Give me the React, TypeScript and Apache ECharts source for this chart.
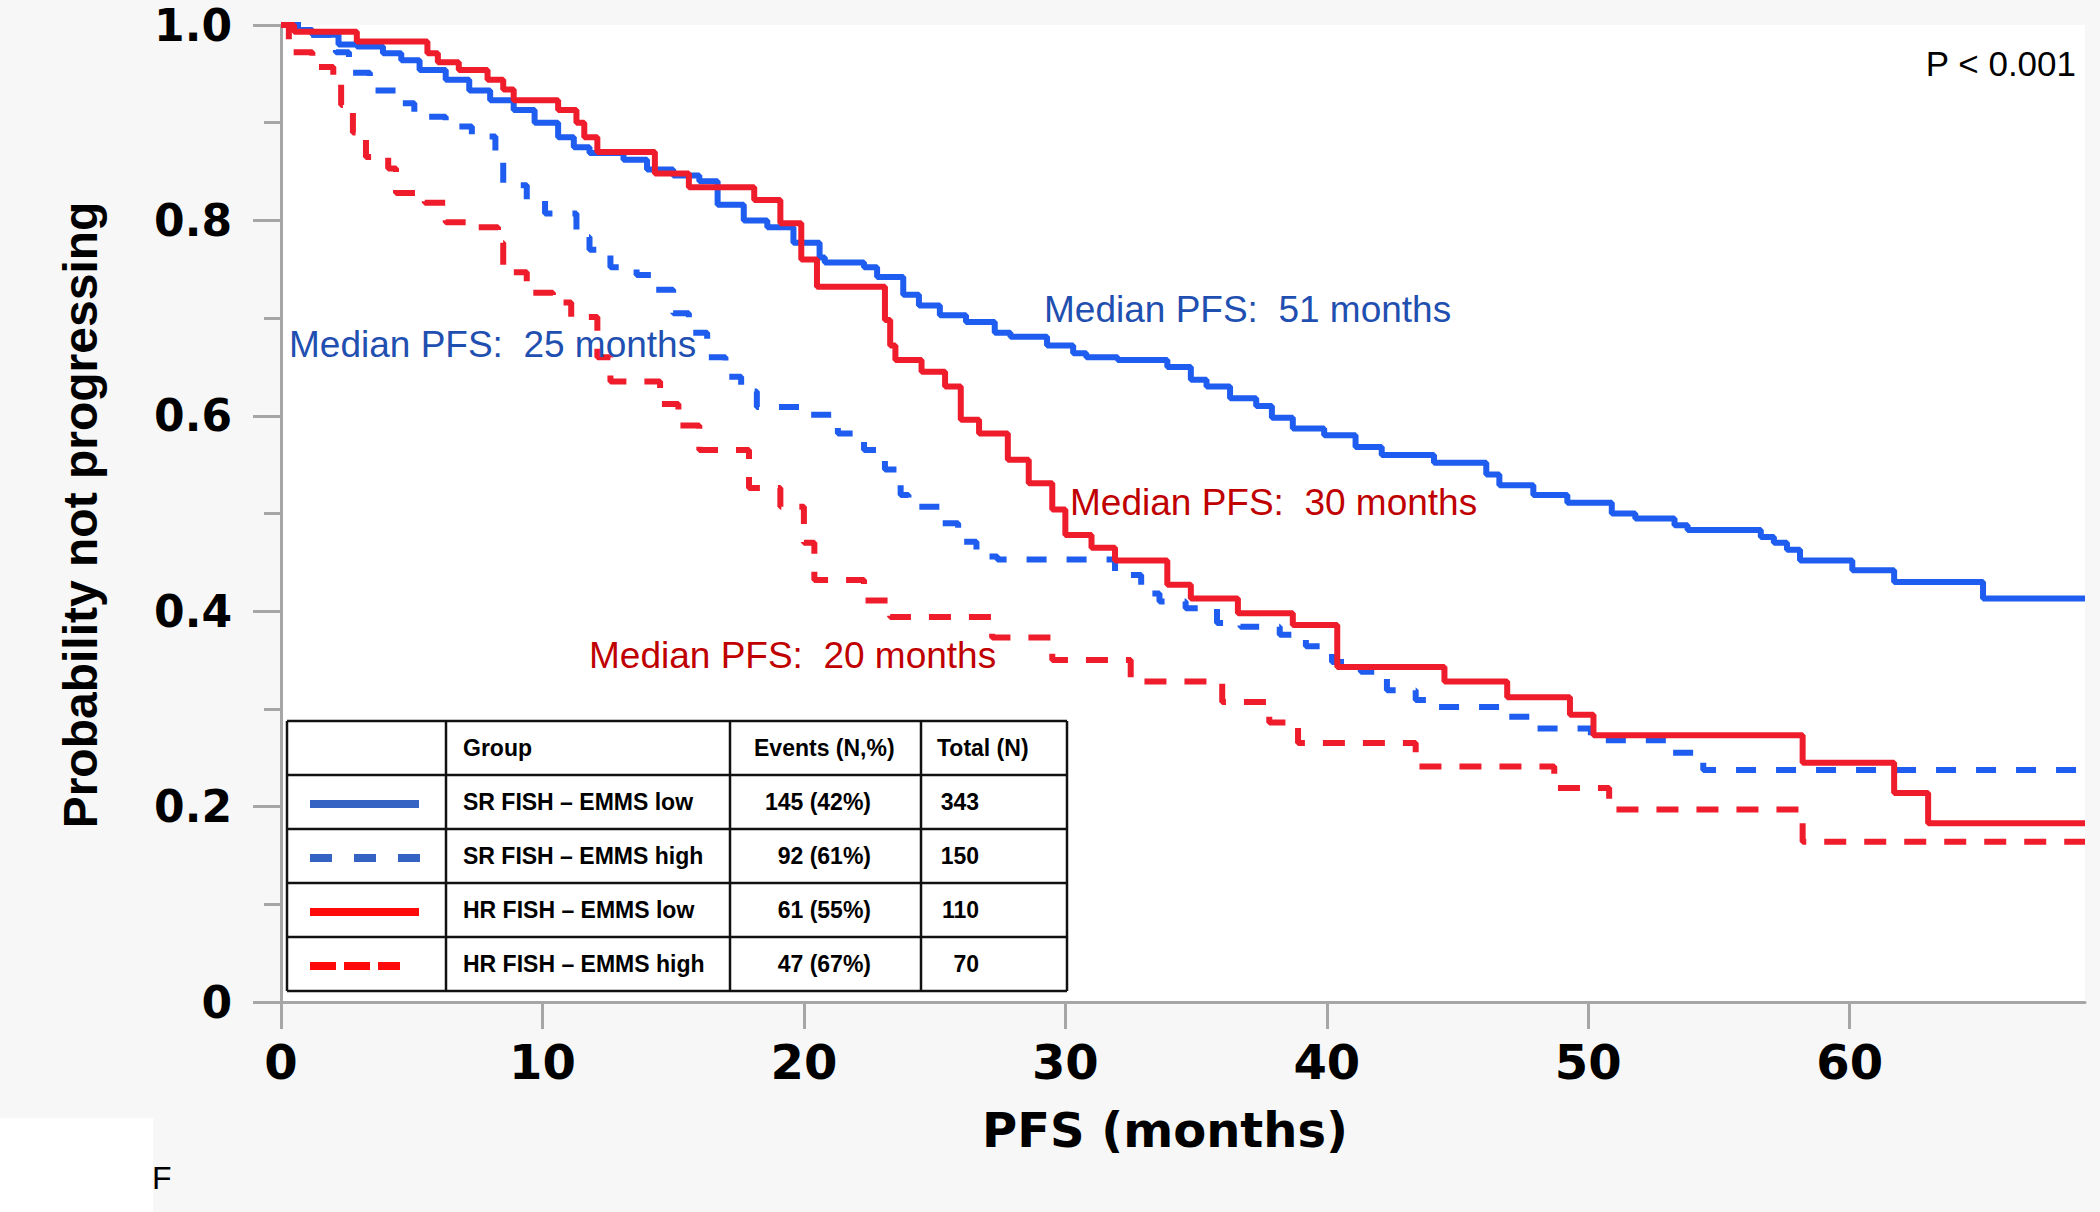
import React, { useEffect, useRef } from "react";
import * as echarts from "echarts";

// ---------- Data ----------
const srLowT = [0, 0.5, 1.2, 2.2, 2.9, 3.9, 4.6, 5.3, 6.3, 7.2, 8.0, 8.9, 9.7, 10.6, 11.2, 11.8, 13.1, 14.0, 15.0, 16.0, 16.7, 17.7, 18.6, 19.6, 20.6, 20.8, 22.3, 22.8, 23.8, 24.4, 25.2, 26.2, 27.3, 27.9, 29.3, 30.3, 30.8, 32.0, 33.9, 34.8, 35.4, 36.3, 37.3, 37.9, 38.7, 39.9, 41.1, 42.1, 44.1, 46.1, 46.6, 47.9, 49.2, 50.9, 51.8, 53.3, 53.8, 56.6, 57.1, 57.6, 58.1, 60.1, 61.7, 65.1, 69];
const srLowS = [1, 0.995, 0.99, 0.98, 0.978, 0.971, 0.964, 0.954, 0.944, 0.933, 0.923, 0.913, 0.9, 0.885, 0.875, 0.869, 0.862, 0.852, 0.846, 0.84, 0.816, 0.8, 0.793, 0.777, 0.762, 0.757, 0.752, 0.742, 0.724, 0.713, 0.703, 0.696, 0.685, 0.681, 0.672, 0.664, 0.66, 0.657, 0.65, 0.637, 0.63, 0.618, 0.61, 0.598, 0.587, 0.58, 0.568, 0.56, 0.552, 0.54, 0.529, 0.519, 0.511, 0.5, 0.495, 0.488, 0.483, 0.476, 0.47, 0.463, 0.452, 0.442, 0.43, 0.413, 0.413];

const srHighT = [0, 1.0, 2.1, 2.6, 3.4, 4.4, 5.1, 6.3, 7.3, 8.2, 8.5, 9.4, 10.1, 11.3, 11.8, 12.6, 13.6, 14.3, 15.0, 15.6, 16.3, 17.0, 17.6, 18.2, 20.2, 21.3, 22.3, 23.1, 23.7, 24.0, 25.2, 25.9, 26.6, 27.4, 31.9, 32.9, 33.6, 34.6, 35.8, 36.7, 38.2, 39.2, 40.2, 41.3, 42.3, 43.4, 43.9, 46.9, 47.9, 50.1, 53.0, 54.4, 69];
const srHighS = [1, 0.99, 0.972, 0.951, 0.933, 0.92, 0.906, 0.896, 0.886, 0.865, 0.836, 0.82, 0.807, 0.783, 0.77, 0.752, 0.744, 0.729, 0.705, 0.685, 0.66, 0.64, 0.625, 0.609, 0.601, 0.582, 0.565, 0.545, 0.519, 0.507, 0.49, 0.471, 0.456, 0.453, 0.437, 0.418, 0.41, 0.403, 0.388, 0.384, 0.376, 0.364, 0.348, 0.338, 0.319, 0.309, 0.302, 0.292, 0.28, 0.268, 0.255, 0.2375, 0.2375];

const hrLowT = [0, 0.5, 2.9, 5.6, 6.0, 6.8, 7.9, 8.5, 8.9, 10.6, 11.3, 11.6, 12.1, 14.3, 15.6, 18.1, 19.1, 19.9, 20.5, 23.1, 23.3, 23.5, 24.5, 25.4, 26.0, 26.7, 27.8, 28.6, 29.5, 30.0, 31.0, 31.9, 33.9, 34.8, 36.6, 38.7, 40.4, 44.5, 46.9, 49.3, 50.2, 58.2, 61.7, 63.0, 69];
const hrLowS = [1, 0.993, 0.983, 0.971, 0.962, 0.954, 0.944, 0.934, 0.923, 0.913, 0.9, 0.885, 0.87, 0.848, 0.834, 0.821, 0.797, 0.76, 0.732, 0.698, 0.672, 0.657, 0.645, 0.63, 0.596, 0.582, 0.555, 0.531, 0.504, 0.478, 0.465, 0.452, 0.427, 0.413, 0.398, 0.386, 0.343, 0.328, 0.312, 0.294, 0.273, 0.245, 0.214, 0.183, 0.183];

const hrHighT = [0, 0.3, 1.2, 2.0, 2.3, 2.75, 3.25, 4.1, 4.4, 5.5, 6.3, 7.5, 8.3, 8.5, 9.4, 10.4, 11.1, 12.1, 12.6, 14.5, 15.2, 16.0, 17.9, 19.1, 20.0, 20.4, 22.3, 23.3, 27.2, 29.5, 32.5, 36.0, 37.8, 38.9, 43.4, 48.7, 50.8, 58.2, 69];
const hrHighS = [1, 0.972, 0.957, 0.94, 0.918, 0.89, 0.865, 0.853, 0.828, 0.818, 0.798, 0.793, 0.777, 0.747, 0.726, 0.716, 0.701, 0.66, 0.635, 0.612, 0.59, 0.565, 0.526, 0.507, 0.47, 0.432, 0.411, 0.394, 0.373, 0.35, 0.328, 0.307, 0.286, 0.265, 0.241, 0.219, 0.197, 0.164, 0.164];

const groupNames = ["SR FISH \u2013 EMMS low", "SR FISH \u2013 EMMS high", "HR FISH \u2013 EMMS low", "HR FISH \u2013 EMMS high"];
const eventsText = ["145 (42%)", "92 (61%)", "61 (55%)", "47 (67%)"];
const totalsText = ["343", "150", "110", "70"];
const medianMonths = [51, 25, 30, 20];
const tableHeaders = ["Group", "Events (N,%)", "Total (N)"];
const xTickValues = [0, 10, 20, 30, 40, 50, 60];
const pValueText = "P < 0.001";
const xTitle = "PFS (months)";
const yTitle = "Probability not progressing";

// ---------- Styles / layout ----------
const BLUE = "#1f5cf0";
const RED = "#ef1c2c";
const BLUE_TXT = "#1f4fb0";
const RED_TXT = "#c00000";
const AXIS = "#a6a6a6";
const SANS = "'Liberation Sans', Arial, sans-serif";
const DEJAVU = "'DejaVu Sans', sans-serif";

const seriesDefs = [
  { name: groupNames[0], t: srLowT, s: srLowS, color: BLUE, dash: "solid" as any },
  { name: groupNames[1], t: srHighT, s: srHighS, color: BLUE, dash: [20, 20] as any },
  { name: groupNames[3], t: hrHighT, s: hrHighS, color: RED, dash: [22, 18] as any },
  { name: groupNames[2], t: hrLowT, s: hrLowS, color: RED, dash: "solid" as any },
];

const legendSample = [
  { color: "#3563c4", dash: null as any, x2: 419 },
  { color: "#3563c4", dash: [22, 22], x2: 420 },
  { color: "#ff0a0a", dash: null as any, x2: 419 },
  { color: "#ff0a0a", dash: [26, 8], x2: 400 },
];
const medianPos = [
  { x: 1044, y: 309, c: BLUE_TXT },
  { x: 289, y: 344, c: BLUE_TXT },
  { x: 1070, y: 502, c: RED_TXT },
  { x: 589, y: 655, c: RED_TXT },
];

function buildGraphics() {
  const els: any[] = [];
  // bottom-left white box and panel letter
  els.push({ type: "rect", shape: { x: 0, y: 1118, width: 153, height: 94 }, style: { fill: "#ffffff" }, z: 1 });
  els.push({
    type: "text", x: 152, y: 1178, z: 5,
    style: { text: "F", fill: "#000", fontSize: 32, fontFamily: SANS, align: "left", verticalAlign: "middle", textAlign: "left", textVerticalAlign: "middle" },
  });
  // P value
  els.push({
    type: "text", x: 2076, y: 63, z: 5,
    style: { text: pValueText, fill: "#000", fontSize: 35, fontFamily: SANS, align: "right", verticalAlign: "middle", textAlign: "right", textVerticalAlign: "middle" },
  });
  // Median annotations
  medianMonths.forEach((m, i) => {
    const p = medianPos[i];
    els.push({
      type: "text", x: p.x, y: p.y, z: 5,
      style: { text: `Median PFS:  ${m} months`, fill: p.c, fontSize: 37, fontFamily: SANS, align: "left", verticalAlign: "middle", textAlign: "left", textVerticalAlign: "middle" },
    });
  });
  // Axis titles
  els.push({
    type: "text", x: 1165, y: 1130, z: 5,
    style: { text: xTitle, fill: "#000", fontSize: 48, fontWeight: "bold", fontFamily: DEJAVU, align: "center", verticalAlign: "middle", textAlign: "center", textVerticalAlign: "middle" },
  });
  els.push({
    type: "text", x: 80, y: 515, rotation: Math.PI / 2, z: 5,
    style: { text: yTitle, fill: "#000", fontSize: 48, fontWeight: "bold", fontFamily: SANS, align: "center", verticalAlign: "middle", textAlign: "center", textVerticalAlign: "middle" },
  });

  // Table
  const colX = [287, 446, 730, 921, 1067];
  const rowY = [721, 775, 829, 883, 937, 991];
  els.push({ type: "rect", z: 10, shape: { x: colX[0], y: rowY[0], width: colX[4] - colX[0], height: rowY[5] - rowY[0] }, style: { fill: "#ffffff" } });
  rowY.forEach((y) => {
    els.push({ type: "line", z: 11, shape: { x1: colX[0], y1: y, x2: colX[4], y2: y }, style: { stroke: "#111", lineWidth: 2.5 } });
  });
  colX.forEach((x) => {
    els.push({ type: "line", z: 11, shape: { x1: x, y1: rowY[0], x2: x, y2: rowY[5] }, style: { stroke: "#111", lineWidth: 2.5 } });
  });
  const tStyle = (text: string, align: string) => ({
    text, fill: "#000", fontSize: 23, fontWeight: "bold", fontFamily: SANS,
    align, verticalAlign: "middle", textAlign: align, textVerticalAlign: "middle",
  });
  const headY = (rowY[0] + rowY[1]) / 2;
  els.push({ type: "text", z: 12, x: 463, y: headY, style: tStyle(tableHeaders[0], "left") });
  els.push({ type: "text", z: 12, x: 754, y: headY, style: tStyle(tableHeaders[1], "left") });
  els.push({ type: "text", z: 12, x: 937, y: headY, style: tStyle(tableHeaders[2], "left") });
  groupNames.forEach((g, i) => {
    const cy = (rowY[i + 1] + rowY[i + 2]) / 2;
    els.push({ type: "text", z: 12, x: 463, y: cy, style: tStyle(g, "left") });
    els.push({ type: "text", z: 12, x: 871, y: cy, style: tStyle(eventsText[i], "right") });
    els.push({ type: "text", z: 12, x: 979, y: cy, style: tStyle(totalsText[i], "right") });
    const ls = legendSample[i];
    const st: any = { stroke: ls.color, lineWidth: 8 };
    if (ls.dash) st.lineDash = ls.dash;
    els.push({ type: "line", z: 12, shape: { x1: 310, y1: cy + 2, x2: ls.x2, y2: cy + 2 }, style: st });
  });
  return els;
}

export default function App() {
  const ref = useRef<HTMLDivElement>(null);
  useEffect(() => {
    document.body.style.margin = "0";
    const chart = echarts.init(ref.current!, null, { renderer: "svg" });
    const option: any = {
      animation: false,
      backgroundColor: "#f7f7f7",
      grid: { left: 281, right: 15, top: 25, bottom: 210, show: true, backgroundColor: "#ffffff", borderWidth: 0 },
      xAxis: {
        type: "value", min: 0, max: 69, interval: 10,
        axisLine: { show: true, onZero: false, lineStyle: { color: AXIS, width: 3 } },
        axisTick: { show: true, length: 27, customValues: xTickValues, lineStyle: { color: AXIS, width: 3 } },
        axisLabel: {
          customValues: xTickValues, margin: 36, fontSize: 48, fontWeight: "bold", fontFamily: DEJAVU, color: "#000",
          formatter: (v: number) => (v % 10 === 0 ? String(v) : ""),
        },
        splitLine: { show: false },
      },
      yAxis: {
        type: "value", min: 0, max: 1, interval: 0.2,
        axisLine: { show: true, lineStyle: { color: AXIS, width: 3 } },
        axisTick: { show: true, length: 28, lineStyle: { color: AXIS, width: 3 } },
        minorTick: { show: true, splitNumber: 2, length: 17, lineStyle: { color: AXIS, width: 3 } },
        axisLabel: {
          margin: 49, fontSize: 44, fontWeight: "bold", fontFamily: DEJAVU, color: "#000",
          formatter: (v: number) => (v === 0 ? "0" : v.toFixed(1)),
        },
        splitLine: { show: false },
        minorSplitLine: { show: false },
      },
      series: seriesDefs.map((d) => ({
        name: d.name,
        type: "line",
        step: "end",
        symbol: "none",
        data: d.t.map((t, i) => [t, d.s[i]]),
        lineStyle: { color: d.color, width: 6, type: d.dash },
        itemStyle: { color: d.color },
      })),
      graphic: { elements: buildGraphics() },
    };
    chart.setOption(option);
    return () => chart.dispose();
  }, []);
  return <div ref={ref} style={{ width: 2100, height: 1212 }} />;
}
